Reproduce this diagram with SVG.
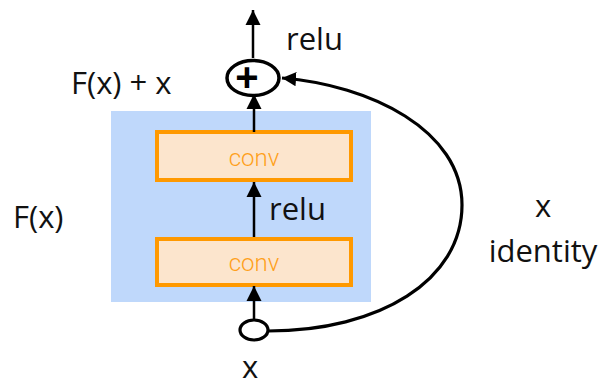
<svg xmlns="http://www.w3.org/2000/svg" width="603" height="387" viewBox="0 0 603 387">
<style>
.lbl{font-family:"Open Sans","Liberation Sans",sans-serif;font-size:31px;fill:#111}
.conv{fill:#FCE5CD;stroke:#FF9900;stroke-width:4}
.convt{font-family:Roboto,"Liberation Sans",sans-serif;font-weight:300;font-size:24px;fill:#FFA01A;text-anchor:middle}
.edge{fill:none;stroke:#000;stroke-width:2.5}
.curve{fill:none;stroke:#000;stroke-width:3.2}
</style>
<defs>
<marker id="ah" viewBox="0 0 10 10" refX="10" refY="5" markerWidth="6" markerHeight="6.4" orient="auto" markerUnits="strokeWidth">
<path d="M0,0 L10,5 L0,10 Z" fill="#000"/>
</marker>
<marker id="ah2" viewBox="0 0 10 10" refX="10" refY="5" markerWidth="4.4" markerHeight="4.8" orient="auto" markerUnits="strokeWidth">
<path d="M0,0 L10,5 L0,10 Z" fill="#000"/>
</marker>
</defs>
<g id="block">
<rect x="111" y="111" width="260" height="191" fill="#BFD8FB"/>
</g>
<g id="conv1">
<rect class="conv" x="157" y="132" width="194" height="48"/>
<text class="convt" x="254" y="166">conv</text>
</g>
<g id="conv2">
<rect class="conv" x="157" y="239" width="194" height="46"/>
<text class="convt" x="254" y="271">conv</text>
</g>
<g id="plus">
<ellipse cx="253" cy="78" rx="26" ry="17.5" fill="#fff" stroke="#000" stroke-width="3.5"/>
<text x="247" y="91" font-family="Liberation Sans,sans-serif" font-size="40" font-weight="bold" fill="#000" text-anchor="middle">+</text>
</g>
<g id="input">
<ellipse cx="254" cy="330" rx="14" ry="10" fill="#fff" stroke="#000" stroke-width="3.2"/>
</g>
<g id="connectors">
<line class="edge" x1="253" y1="58" x2="253" y2="10" marker-end="url(#ah)"/>
<line class="edge" x1="254" y1="132" x2="254" y2="94" marker-end="url(#ah)"/>
<line class="edge" x1="254" y1="237" x2="254" y2="182" marker-end="url(#ah)"/>
<line class="edge" x1="254" y1="319" x2="254" y2="286" marker-end="url(#ah)"/>
<path class="curve" d="M268,331 C380,331 462,280 462,205 C462,130 370,85 282,78" marker-end="url(#ah2)"/>
</g>
<g id="labels">
<text class="lbl" x="286" y="50">relu</text>
<text class="lbl" x="71" y="94" font-size="32">F(x) + x</text>
<text class="lbl" x="269" y="220">relu</text>
<text class="lbl" x="13" y="228">F(x)</text>
<text class="lbl" x="543" y="217" text-anchor="middle">x</text>
<text class="lbl" x="543" y="262" text-anchor="middle">identity</text>
<text class="lbl" x="250" y="378" text-anchor="middle">x</text>
</g>
</svg>
